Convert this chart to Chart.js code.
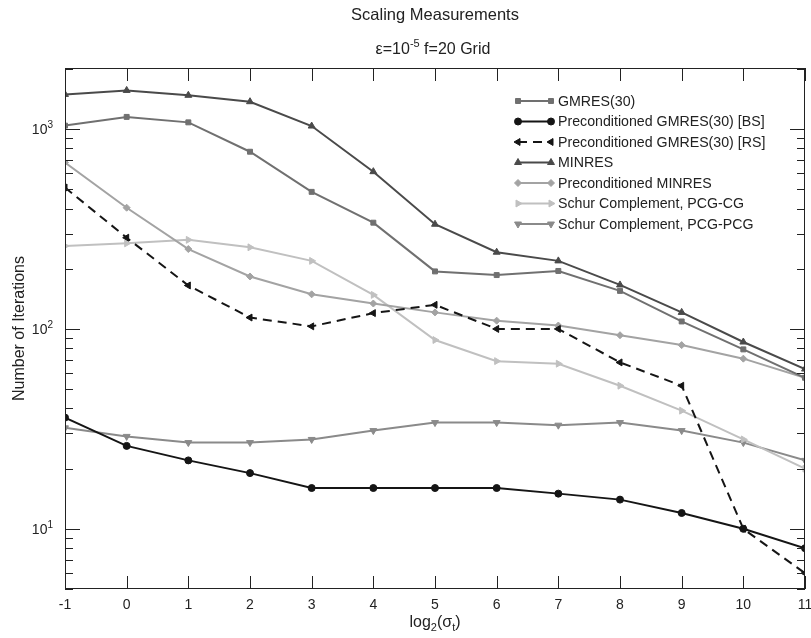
<!DOCTYPE html>
<html>
<head>
  <title>Scaling Measurements</title>
  <style>
      body { margin: 0; padding: 0; background: #fff; }
      #wrap { position: relative; width: 811px; height: 638px; }
  </style>
</head>
<body>
  <div id="wrap"><canvas id="chart" width="811" height="638"></canvas></div>
  <script src="https://cdn.jsdelivr.net/npm/chart.js"></script>
  <script>
      // log2(sigma_t) positions
      const sigmaLog = [-1, 0, 1, 2, 3, 4, 5, 6, 7, 8, 9, 10, 11];

      const gmres30     = [1040, 1150, 1080, 770, 485, 340, 194, 186, 195, 155, 109, 79, 57];
      const pgmresBS    = [36, 26, 22, 19, 16, 16, 16, 16, 15, 14, 12, 10, 8];
      const pgmresRS    = [510, 286, 165, 114, 103, 120, 132, 100, 100, 68, 52, 10, 6];
      const minres      = [1490, 1560, 1475, 1370, 1035, 612, 334, 242, 219, 166, 121, 86, 63];
      const pminres     = [680, 404, 251, 183, 149, 134, 121, 110, 104, 93, 83, 71, 57];
      const schurPcgCg  = [260, 268, 279, 256, 219, 148, 88, 69, 67, 52, 39, 28, 20];
      const schurPcgPcg = [32, 29, 27, 27, 28, 31, 34, 34, 33, 34, 31, 27, 22];

      const yTickDecades = [10, 100, 1000];

      const FONT = '"Liberation Sans", Arial, sans-serif';
      const pts = vals => vals.map((v, i) => ({ x: sigmaLog[i], y: v }));

      function series(label, vals, color, style, rotation, radius, dash) {
          return {
              label: label,
              data: pts(vals),
              borderColor: color,
              backgroundColor: color,
              pointBackgroundColor: color,
              pointBorderColor: color,
              borderWidth: 2,
              pointStyle: style,
              pointRotation: rotation,
              pointRadius: radius,
              pointBorderWidth: 1,
              borderDash: dash || [],
              tension: 0
          };
      }

      const datasets = [
          series('GMRES(30)', gmres30, '#707070', 'rect', 0, 3.5),
          series('Preconditioned GMRES(30) [BS]', pgmresBS, '#151515', 'circle', 0, 3.5),
          series('Preconditioned GMRES(30) [RS]', pgmresRS, '#151515', 'triangle', -90, 4, [9, 6]),
          series('MINRES', minres, '#4a4a4a', 'triangle', 0, 4),
          series('Preconditioned MINRES', pminres, '#a3a3a3', 'rectRot', 0, 3.5),
          series('Schur Complement, PCG-CG', schurPcgCg, '#c0c0c0', 'triangle', 90, 4),
          series('Schur Complement, PCG-PCG', schurPcgPcg, '#8a8a8a', 'triangle', 180, 4)
      ];

      // draws a run of [text, size, dy] pieces starting at x
      function drawRuns(ctx, parts, x, y) {
          parts.forEach(p => {
              ctx.font = p[1] + 'px ' + FONT;
              ctx.fillText(p[0], x, y + p[2]);
              x += ctx.measureText(p[0]).width;
          });
      }
      function runsWidth(ctx, parts) {
          let w = 0;
          parts.forEach(p => { ctx.font = p[1] + 'px ' + FONT; w += ctx.measureText(p[0]).width; });
          return w;
      }

      // frame, inside ticks, titles, axis labels and legend
      const matlabLook = {
          id: 'matlabLook',
          afterDraw(chart) {
              const ctx = chart.ctx;
              const a = chart.chartArea;
              const xs = chart.scales.x;
              const ys = chart.scales.y;
              ctx.save();
              ctx.strokeStyle = '#222';
              ctx.lineWidth = 1;
              ctx.strokeRect(a.left + 0.5, a.top + 0.5, a.right - a.left - 1, a.bottom - a.top - 1);

              ctx.beginPath();
              sigmaLog.forEach(v => {
                  const px = Math.round(xs.getPixelForValue(v)) + 0.5;
                  ctx.moveTo(px, a.bottom); ctx.lineTo(px, a.bottom - 13);
                  ctx.moveTo(px, a.top); ctx.lineTo(px, a.top + 13);
              });
              for (let d = 1; d <= 1000; d *= 10) {
                  for (let m = 1; m <= 9; m++) {
                      const v = d * m;
                      if (v < ys.min || v > ys.max) continue;
                      const len = m === 1 ? 15 : 8;
                      const py = Math.round(ys.getPixelForValue(v)) + 0.5;
                      ctx.moveTo(a.left, py); ctx.lineTo(a.left + len, py);
                      ctx.moveTo(a.right, py); ctx.lineTo(a.right - len, py);
                  }
              }
              ctx.stroke();

              ctx.fillStyle = '#222';
              ctx.textBaseline = 'alphabetic';
              ctx.textAlign = 'left';

              // y tick labels 10^n
              yTickDecades.forEach(v => {
                  const py = ys.getPixelForValue(v);
                  const lab = [['10', 14, 0], [String(Math.round(Math.log10(v))), 10, -6]];
                  drawRuns(ctx, lab, 53 - runsWidth(ctx, lab), py + 5);
              });

              const title = [['Scaling Measurements', 16.5, 0]];
              drawRuns(ctx, title, 435 - runsWidth(ctx, title) / 2, 20);

              const sub = [['\u03b5=10', 16, 0], ['-5', 11, -7], [' f=20 Grid', 16, 0]];
              drawRuns(ctx, sub, 433 - runsWidth(ctx, sub) / 2, 54);

              const xl = [['log', 16, 0], ['2', 11, 4], ['(\u03c3', 16, 0], ['t', 11, 4], [')', 16, 0]];
              drawRuns(ctx, xl, (a.left + a.right) / 2 - runsWidth(ctx, xl) / 2, 627);

              // y label
              ctx.save();
              ctx.translate(24, (a.top + a.bottom) / 2);
              ctx.rotate(-Math.PI / 2);
              ctx.textAlign = 'center';
              ctx.font = '16px ' + FONT;
              ctx.fillText('Number of Iterations', 0, 0);
              ctx.restore();

              // legend
              ctx.textAlign = 'left';
              ctx.textBaseline = 'middle';
              chart.data.datasets.forEach((ds, i) => {
                  const ly = 101 + i * 20.5;
                  ctx.strokeStyle = ds.borderColor;
                  ctx.fillStyle = ds.borderColor;
                  ctx.lineWidth = 2;
                  ctx.setLineDash(ds.borderDash);
                  ctx.beginPath();
                  ctx.moveTo(518, ly); ctx.lineTo(551, ly);
                  ctx.stroke();
                  ctx.setLineDash([]);
                  ctx.lineWidth = 1;
                  [518, 551].forEach(mx => {
                      Chart.helpers.drawPoint(ctx, {
                          pointStyle: ds.pointStyle, rotation: ds.pointRotation,
                          radius: ds.pointRadius, borderWidth: 1
                      }, mx, ly);
                  });
                  ctx.fillStyle = '#222';
                  ctx.font = '14.2px ' + FONT;
                  ctx.fillText(ds.label, 558, ly + 1);
              });
              ctx.restore();
          }
      };

      const ctx = document.getElementById('chart').getContext('2d');
      const chart = new Chart(ctx, {
          type: 'line',
          data: { datasets: datasets },
          plugins: [matlabLook],
          options: {
              responsive: false,
              animation: false,
              devicePixelRatio: 1,
              layout: { padding: { left: 0, top: 68, right: 6, bottom: 0 } },
              plugins: { legend: { display: false }, tooltip: { enabled: false } },
              scales: {
                  x: {
                      type: 'linear',
                      min: -1,
                      max: 11,
                      grid: { display: false, drawTicks: false },
                      border: { display: false },
                      afterFit: s => { s.height = 49; s.paddingLeft = 0; s.paddingRight = 0; },
                      afterBuildTicks: s => { s.ticks = sigmaLog.map(v => ({ value: v })); },
                      ticks: {
                          padding: 8,
                          maxRotation: 0,
                          minRotation: 0,
                          autoSkip: false,
                          color: '#222',
                          font: { family: FONT, size: 14 }
                      }
                  },
                  y: {
                      type: 'logarithmic',
                      min: 5,
                      max: 2020,
                      grid: { display: false, drawTicks: false },
                      border: { display: false },
                      afterFit: s => { s.width = 65; s.paddingTop = 0; s.paddingBottom = 0; },
                      afterBuildTicks: s => { s.ticks = yTickDecades.map(v => ({ value: v })); },
                      ticks: { display: false }
                  }
              }
          }
      });
  </script>
</body>
</html>
